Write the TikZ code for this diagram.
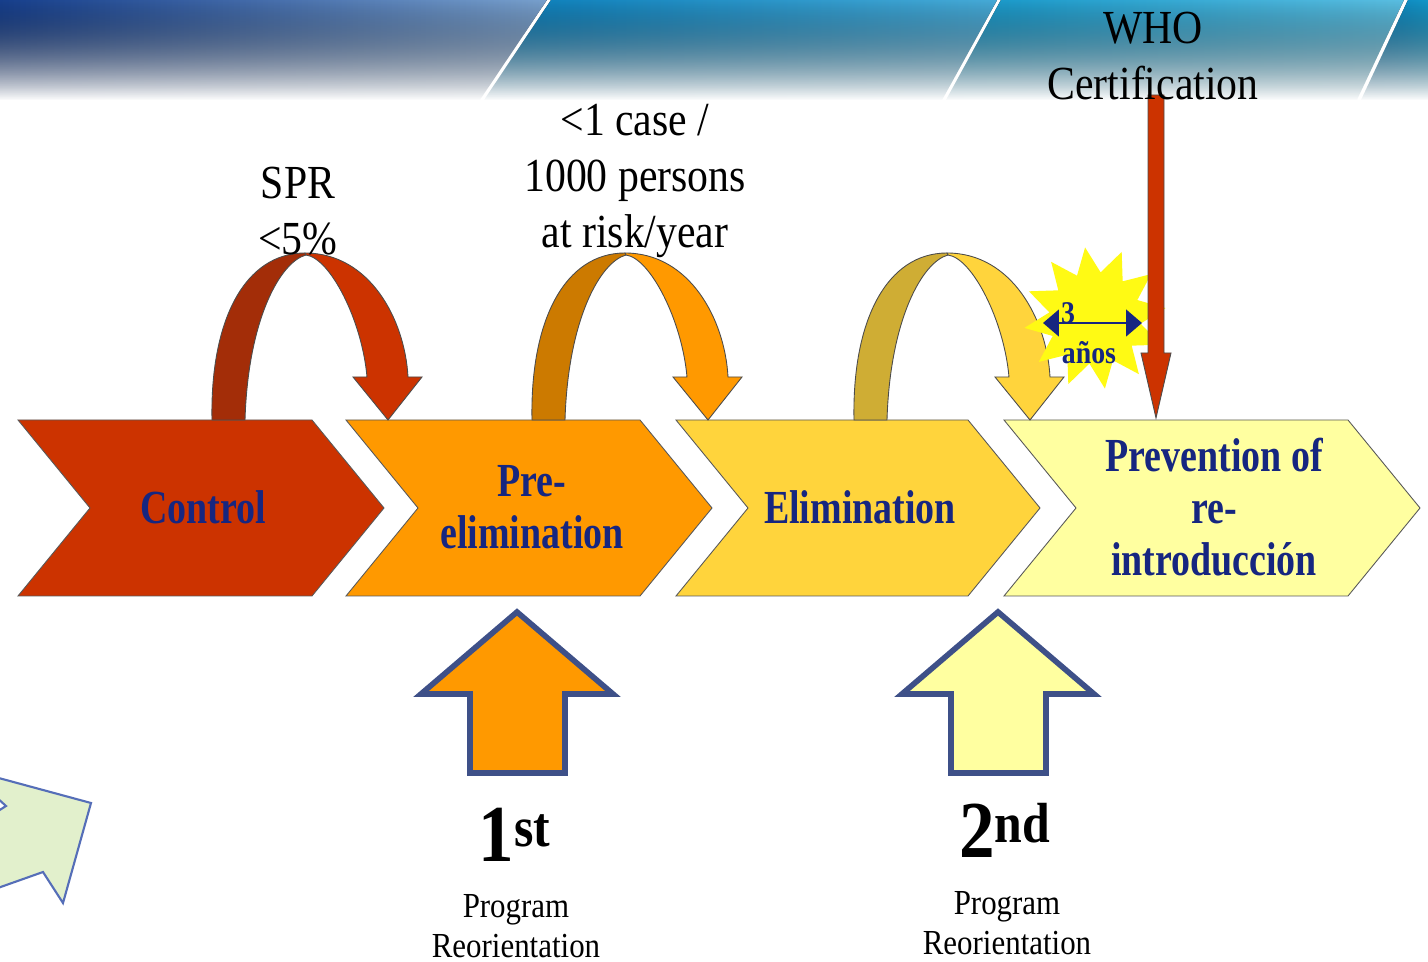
\documentclass[tikz,border=0pt]{standalone}
\usepackage{fontspec}
\setmainfont{Liberation Serif}
\usepackage{graphicx}
\usetikzlibrary{shapes.geometric,arrows.meta,fadings}

\definecolor{ctrlred}{RGB}{204,51,0}
\definecolor{ctrldark}{RGB}{163,45,8}
\definecolor{preorange}{RGB}{255,153,0}
\definecolor{predark}{RGB}{204,122,0}
\definecolor{elimyellow}{RGB}{255,212,60}
\definecolor{elimdark}{RGB}{207,173,52}
\definecolor{prevyellow}{RGB}{255,255,160}
\definecolor{stagenavy}{RGB}{22,38,128}
\definecolor{upedge}{RGB}{62,80,136}
\definecolor{burstyellow}{RGB}{255,250,20}
\definecolor{leafgreen}{RGB}{226,240,204}
\definecolor{leafedge}{RGB}{85,110,184}
\definecolor{bandAdark}{RGB}{23,63,140}
\definecolor{bandAlight}{RGB}{120,160,205}
\definecolor{bandBdark}{RGB}{10,125,185}
\definecolor{bandBlight}{RGB}{70,170,215}
\definecolor{bandCdark}{RGB}{20,150,200}
\definecolor{bandClight}{RGB}{90,190,225}

\newcommand{\condtext}[2][0.88]{\scalebox{#1}[1]{#2}}

\tikzfading[name=bannerfade, top color=transparent!0, bottom color=transparent!100]

\begin{document}
\begin{tikzpicture}[x=0.02cm, y=-0.02cm, >=latex,
        stagebox/.style={draw=black!65, line width=0.5pt},
        hopline/.style={draw=black!70, line width=0.5pt},
        stagetext/.style={text=stagenavy, align=center, font=\fontsize{27}{29.5}\selectfont\bfseries},
        toplabel/.style={align=center, font=\fontsize{27}{32}\selectfont},
        ordinal/.style={font=\fontsize{46}{50}\selectfont\bfseries},
        progtext/.style={align=center, font=\fontsize{20}{22.7}\selectfont},
        yeartext/.style={text=stagenavy, font=\fontsize{18}{20}\selectfont\bfseries},
        burst/.style={star, star points=12, star point ratio=1.55, minimum size=2.85cm, inner sep=0pt, rotate=8, fill=burstyellow},
        spanarrow/.style={{Triangle[length=9pt,width=15pt]}-{Triangle[length=9pt,width=15pt]}, line width=1.6pt, draw=stagenavy},
        upbox/.style={draw=upedge, line width=3.2pt, line join=miter}]

    \useasboundingbox (0,0) rectangle (1428,962);
    \fill[white] (0,0) rectangle (1428,962);

    % Banner
    \fill[left color=bandAdark, right color=bandAlight, path fading=bannerfade] (0,0) -- (547,0) -- (480,100) -- (0,100) -- cycle;
    \fill[left color=bandBdark, right color=bandBlight, path fading=bannerfade] (551,0) -- (997,0) -- (942,100) -- (484,100) -- cycle;
    \fill[left color=bandCdark, right color=bandClight, path fading=bannerfade] (1001,0) -- (1404,0) -- (1357,100) -- (946,100) -- cycle;
    \fill[left color=bandBdark, right color=bandCdark, path fading=bannerfade] (1408,0) -- (1428,0) -- (1428,100) -- (1361,100) -- cycle;

    % Stages
    \foreach \l/\r/\c in {18/312/ctrlred, 346/640/preorange, 676/968/elimyellow, 1004/1348/prevyellow}
    {
        \filldraw[stagebox, fill=\c] (\l,420) -- (\r,420) -- (\r+72,508) -- (\r,596) -- (\l,596) -- (\l+72,508) -- cycle;
    }

    % Hops between stages
    \foreach \o/\dk/\lt in {0/ctrldark/ctrlred, 320/predark/preorange, 642/elimdark/elimyellow}
    {
        \begin{scope}[shift={(\o,0)}]
            \filldraw[hopline, fill=\dk] (212,420) .. controls (210,320) and (245,253) .. (305,253) -- (306,255) .. controls (280,262) and (248,320) .. (245,420) -- cycle;
            \filldraw[hopline, fill=\lt] (305,253) .. controls (370,253) and (405,320) .. (408,377) -- (422,377) -- (388,420) -- (353,377) -- (367,377) .. controls (362,320) and (330,258) .. (306,255) -- cycle;
        \end{scope}
    }

    % Three years burst
    \node[burst] (Burst) at (1095,318) {};
    \coordinate (SpanL) at (1043,323);
    \coordinate (SpanR) at (1142,323);

    % WHO certification arrow
    \coordinate (WhoTip) at (1156,418);
    \begin{scope}[shift={(WhoTip)}]
        \filldraw[hopline, fill=ctrlred] (-8,-323) -- (8,-323) -- (8,-65) -- (15,-65) -- (0,0) -- (-15,-65) -- (-8,-65) -- cycle;
    \end{scope}

    \draw[spanarrow] (SpanL) -- (SpanR);
    \node[yeartext] (Three) at (1068,313) {\condtext{3}};
    \node[yeartext] (Years) at (1089,353) {\condtext{a\~nos}};

    % Labels above
    \node[toplabel] (WHO) at (1153,56) {\condtext{WHO}\\\condtext{Certification}};
    \node[toplabel] (SPR) at (298,211) {\condtext{SPR}\\\condtext{<5\%}};
    \node[toplabel] (CaseRate) at (635,181) {\condtext{<1 case /}\\\condtext{1000 persons}\\\condtext{at risk/year}};

    % Stage names
    \node[stagetext] (Control) at (203,507) {\condtext[0.8]{Control}};
    \node[stagetext] (PreElim) at (532,507) {\condtext[0.8]{Pre-}\\\condtext[0.8]{elimination}};
    \node[stagetext] (Elim) at (860,507) {\condtext[0.8]{Elimination}};
    \node[stagetext] (Prevent) at (1214,507) {\condtext[0.8]{Prevention of}\\\condtext[0.8]{re-}\\\condtext[0.8]{introducci\'on}};

    % Reorientations
    \foreach \i/\x/\c in {1/517/preorange, 2/998/prevyellow}
    {
        \coordinate (Up-\i) at (\x,612);
        \begin{scope}[shift={(Up-\i)}]
            \filldraw[upbox, fill=\c] (0,0) -- (96,82) -- (48,82) -- (48,161) -- (-47,161) -- (-47,82) -- (-96,82) -- cycle;
        \end{scope}
    }
    \node[ordinal, anchor=base] (First) at (515,862) {\condtext{1\textsuperscript{st}}};
    \node[progtext] (FirstProg) at (516,926) {\condtext{Program}\\\condtext{Reorientation}};
    \node[ordinal, anchor=base] (Second) at (1005,858) {\condtext{2\textsuperscript{nd}}};
    \node[progtext] (SecondProg) at (1007,923) {\condtext{Program}\\\condtext{Reorientation}};

    % Leaf arrow, cut at the left edge
    \filldraw[fill=leafgreen, draw=leafedge, line width=1.2pt] (-5,777) -- (91,803) -- (63,903) -- (43,872) -- (-5,889) -- (-5,813) -- (6,806) -- (-5,796) -- cycle;
\end{tikzpicture}
\end{document}
